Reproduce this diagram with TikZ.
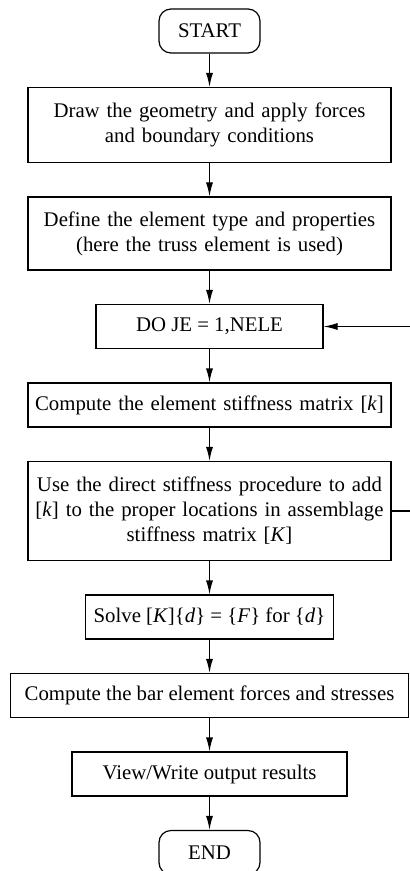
\documentclass[tikz,border=0pt]{standalone}
\usepackage{fontspec}
\setmainfont{Liberation Serif}
\usetikzlibrary{positioning,arrows.meta}

\begin{document}
\begin{tikzpicture}[>={Latex[length=7pt,width=3.5pt]},line width=0.6pt,
  node distance=16.65pt,
  every node/.style={font=\fontsize{10.4}{12.5}\selectfont},
  term/.style={draw,rounded corners=6pt,minimum width=50.5pt,minimum height=22pt},
  proc/.style={draw,align=center,minimum height=22pt},
  wide/.style={proc,text width=175pt,inner xsep=3.25pt}]
  \useasboundingbox (-104.75pt,15.5pt) rectangle (100.25pt,-420pt);
  \node[term] (start) {START};
  \node[wide,minimum height=37.5pt,below=of start] (geom) {Draw the geometry and apply forces\\and boundary conditions};
  \node[wide,minimum height=36.5pt,below=of geom] (elem) {Define the element type and properties\\(here the truss element is used)};
  \node[proc,minimum width=113.5pt,below=of elem] (do) {DO JE = 1,NELE};
  \node[wide,below=of do] (stiff) {Compute the element stiffness matrix [\textit{k}]};
  \node[wide,minimum height=49.5pt,below=of stiff] (assem) {Use the direct stiffness procedure to add\\{[}\textit{k}] to the proper locations in assemblage\\stiffness matrix [\textit{K}]};
  \node[proc,minimum width=124pt,below=of assem] (solve) {Solve [\textit{K}]\{\textit{d}\} = \{\textit{F}\} for \{\textit{d}\}};
  \node[proc,minimum width=199pt,below=of solve] (bar) {Compute the bar element forces and stresses};
  \node[proc,minimum width=137.5pt,below=of bar] (view) {View/Write output results};
  \node[term,below=of view] (end) {END};
  \foreach \a/\b in {start/geom,geom/elem,elem/do,do/stiff,stiff/assem,assem/solve,solve/bar,bar/view,view/end}
    \draw[->] (\a) -- (\b);
  % loop back to DO
  \coordinate (edge) at (100.25pt,0);
  \draw (assem.east) -- (assem.east -| edge);
  \draw[->] (do.east -| edge) -- (do.east);
\end{tikzpicture}
\end{document}
